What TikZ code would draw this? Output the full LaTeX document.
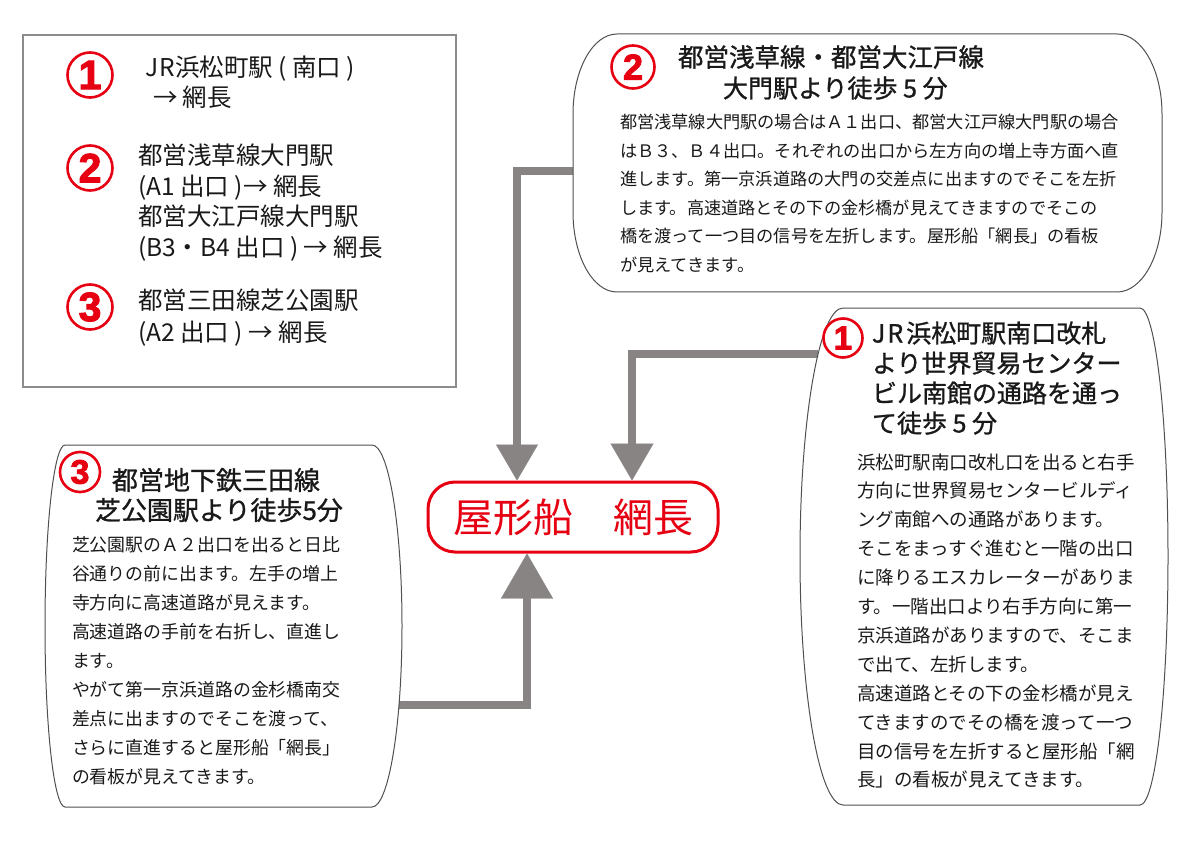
\documentclass[tikz,border=0pt]{standalone}
\usepackage{fontspec}
\setmainfont{Noto Sans CJK JP}
\newfontfamily\jptitle[FakeBold=1]{Noto Sans CJK JP}
\newfontfamily\numfont[FakeBold=2.5]{Liberation Sans Bold}
\usetikzlibrary{arrows.meta,calc}
\definecolor{amired}{RGB}{230,0,18}
\definecolor{arrgray}{RGB}{137,132,132}
\definecolor{edgegray}{RGB}{80,80,80}
\definecolor{leggray}{RGB}{140,140,140}
\newcommand\fsz[2]{\fontsize{#1pt}{#2pt}\selectfont}
\newcommand\strt{\rule{0pt}{.88em}}
\newcommand\drawoval[4]{%
  \draw[boxline]
   ($(#1.north west)+(#2,0)$) -- ($(#1.north east)+(-#3,0)$)
   .. controls ($(#1.north east)+(-0.448*#3,0)$) and ($(#1.north east)+(0,0.448*#4)$) .. ($(#1.north east)+(0,#4)$)
   -- ($(#1.south east)+(0,-#4)$)
   .. controls ($(#1.south east)+(0,-0.448*#4)$) and ($(#1.south east)+(-0.448*#3,0)$) .. ($(#1.south east)+(-#3,0)$)
   -- ($(#1.south west)+(#2,0)$)
   .. controls ($(#1.south west)+(0.448*#2,0)$) and ($(#1.south west)+(0,-0.448*#4)$) .. ($(#1.south west)+(0,-#4)$)
   -- ($(#1.north west)+(0,#4)$)
   .. controls ($(#1.north west)+(0,0.448*#4)$) and ($(#1.north west)+(0.448*#2,0)$) .. cycle;}
\tikzset{
  boxarea/.style={rectangle,inner sep=0pt,outer sep=0pt,draw=none},
  boxline/.style={draw=edgegray,line width=1pt},
  txt/.style={anchor=north west,inner sep=0pt,outer sep=0pt,align=left,text=black!90},
  numc/.style={circle,draw=amired,line width=2.6pt,inner sep=0pt,text=amired},
  arrowline/.style={draw=arrgray,line width=8pt},
  goal/.style={rectangle,rounded corners=27pt,draw=amired,line width=3pt,
    minimum width=290pt,minimum height=70pt,text=amired,font=\fsz{40}{44}},
}
\begin{document}
\begin{tikzpicture}[x=1pt,y=-1pt]
\useasboundingbox (0,0) rectangle (1191,842);
\fill[white] (0,0) rectangle (1191,842);

% legend box
\node[boxarea,draw=leggray,line width=1.3pt,minimum width=433pt,minimum height=352pt] (leg) at (239.5,211) {};
\node[numc,minimum size=45pt,font=\numfont\fsz{41}{41}] (lc1) at (90,75) {1};
\node[numc,minimum size=45pt,font=\numfont\fsz{41}{41}] (lc2) at (90,168) {2};
\node[numc,minimum size=45pt,font=\numfont\fsz{41}{41}] (lc3) at (90,307) {3};
\node[txt,font=\fsz{24.5}{30}] (lt1) at (145,54.75) {\strt J\hspace{1.5pt}R浜松町駅 ( 南口 )\\\hspace{8pt}→ 網長};
\node[txt,font=\fsz{24.5}{30.7}] (lt2) at (138,142.75) {\strt 都営浅草線大門駅\\(A1 出口 )→ 網長\\都営大江戸線大門駅\\(B3・B4 出口 ) → 網長};
\node[txt,font=\fsz{24.5}{32}] (lt3) at (138,287.75) {\strt 都営三田線芝公園駅\\(A2 出口 ) → 網長};

% box areas
\node[boxarea,minimum width=589pt,minimum height=258pt] (b2) at (867.5,163) {};
\node[boxarea,minimum width=368pt,minimum height=497pt] (b1) at (984,556.5) {};
\node[boxarea,minimum width=357pt,minimum height=362pt] (b3) at (223.5,626) {};

% goal
\node[goal] (ya) at (573,517) {屋形船　網長};

% connectors
\coordinate (s2) at (573,171);
\coordinate (s1) at (818,354);
\coordinate (s3) at (399,705);
\draw[arrowline,-{Triangle[width=42pt,length=36pt,line width=0.1pt]}] (s2) -| ([xshift=-56pt]ya.north);
\draw[arrowline,-{Triangle[width=43pt,length=37pt,line width=0.1pt]}] (s1) -| ([xshift=59pt]ya.north);
\draw[arrowline,-{Triangle[width=52pt,length=45pt,line width=0.1pt]}] (s3) -| ([xshift=-46pt]ya.south);

% outlines
\drawoval{b2}{44}{45}{80}
\drawoval{b1}{43}{28}{248.5}
\drawoval{b3}{20}{30}{181}

% box 2
\node[numc,minimum size=43pt,font=\numfont\fsz{36}{36}] (c2) at (633,67) {2};
\node[txt,font=\jptitle\fsz{25.5}{30}] (t2a) at (678,44.25) {\strt 都営浅草線・都営大江戸線};
\node[txt,font=\jptitle\fsz{25}{30}] (t2b) at (723,75.5) {\strt 大門駅より徒歩 5 分};
\node[txt,font=\fsz{17.2}{28.6}] (p2) at (620,113.4) {\strt 都営浅草線大門駅の場合はＡ１出口、都営大江戸線大門駅の場合\\はＢ３、Ｂ４出口。それぞれの出口から左方向の増上寺方面へ直\\進します。第一京浜道路の大門の交差点に出ますのでそこを左折\\します。高速道路とその下の金杉橋が見えてきますのでそこの\\橋を渡って一つ目の信号を左折します。屋形船「網長」の看板\\が見えてきます。};

% box 1
\node[numc,minimum size=39pt,font=\numfont\fsz{33}{33}] (c1) at (843,338) {1};
\node[txt,font=\jptitle\fsz{25}{30}] (t1) at (872,320.5) {\strt J\hspace{2pt}R\hspace{3pt}浜松町駅南口改札\\より世界貿易センター\\ビル南館の通路を通っ\\て徒歩 5 分};
\node[txt,font=\fsz{18.5}{28.9}] (p1) at (857,452.75) {\strt 浜松町駅南口改札口を出ると右手\\方向に世界貿易センタービルディ\\ング南館への通路があります。\\そこをまっすぐ進むと一階の出口\\に降りるエスカレーターがありま\\す。一階出口より右手方向に第一\\京浜道路がありますので、そこま\\で出て、左折します。\\高速道路とその下の金杉橋が見え\\てきますのでその橋を渡って一つ\\目の信号を左折すると屋形船「網\\長」の看板が見えてきます。};

% box 3
\node[numc,minimum size=40pt,font=\numfont\fsz{34}{34}] (c3) at (80,472) {3};
\node[txt,font=\jptitle\fsz{26}{30}] (t3a) at (112,467) {\strt 都営地下鉄三田線};
\node[txt,font=\jptitle\fsz{26}{30}] (t3b) at (95,497) {\strt 芝公園駅より徒歩5分};
\node[txt,font=\fsz{17.9}{29}] (p3) at (72,536) {\strt 芝公園駅のＡ２出口を出ると日比\\谷通りの前に出ます。左手の増上\\寺方向に高速道路が見えます。\\高速道路の手前を右折し、直進し\\ます。\\やがて第一京浜道路の金杉橋南交\\差点に出ますのでそこを渡って、\\さらに直進すると屋形船「網長」\\の看板が見えてきます。};
\end{tikzpicture}
\end{document}
